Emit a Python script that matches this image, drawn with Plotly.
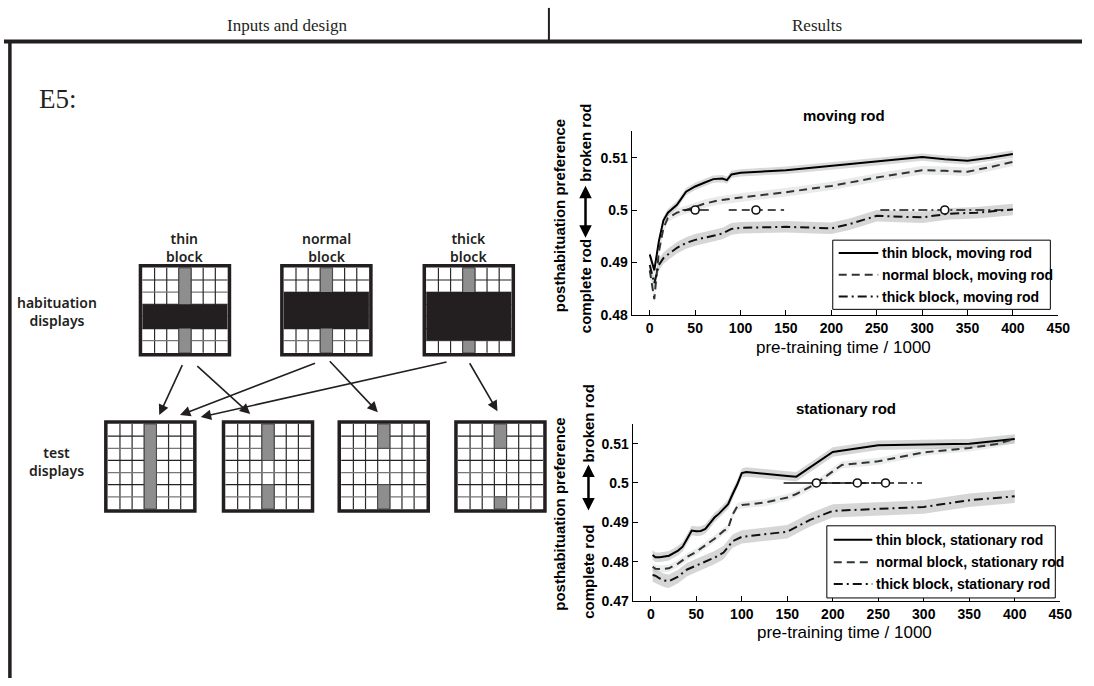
import plotly.graph_objects as go

W, H = 1094, 686

# ---------------- data: moving rod ----------------
mv_thin_t = [0, 5, 10, 15, 20, 30, 40, 50, 60, 70, 80, 85, 90, 100, 150, 200, 250, 300, 325, 350, 375, 400]
mv_thin_v = [0.4915, 0.4885, 0.4940, 0.4980, 0.4995, 0.5010, 0.5035, 0.5045, 0.5052, 0.5059, 0.5060, 0.5057,
             0.5068, 0.5071, 0.5076, 0.5084, 0.5092, 0.5101, 0.5097, 0.5094, 0.5100, 0.5107]
mv_norm_t = [0, 5, 10, 15, 20, 30, 40, 50, 60, 75, 90, 100, 150, 200, 250, 300, 325, 350, 375, 400]
mv_norm_v = [0.4885, 0.4830, 0.4920, 0.4965, 0.4985, 0.4995, 0.5000, 0.5006, 0.5012, 0.5018, 0.5022, 0.5024,
             0.5034, 0.5046, 0.5062, 0.5076, 0.5075, 0.5073, 0.5082, 0.5092]
mv_thick_t = [0, 5, 10, 15, 20, 30, 40, 50, 60, 70, 80, 90, 100, 150, 180, 200, 220, 250, 280, 300, 330, 360, 400]
mv_thick_v = [0.4895, 0.4860, 0.4895, 0.4908, 0.4915, 0.4928, 0.4937, 0.4943, 0.4947, 0.4951, 0.4955, 0.4964,
              0.4966, 0.4968, 0.4966, 0.4965, 0.4973, 0.4989, 0.4987, 0.4986, 0.4993, 0.4995, 0.5001]
mv_spread = [0.0007, 0.0008, 0.0011]
# crossing of the 0.5 line: centre, lower, upper
mv_cross_mid = [50, 117, 325]
mv_cross_lo = [36, 87, 254]
mv_cross_hi = [65, 148, 399]

# ---------------- data: stationary rod ----------------
st_thin_t = [2, 5, 10, 20, 30, 35, 40, 45, 50, 55, 60, 65, 70, 75, 80, 85, 90, 95, 100, 105, 150, 160,
             200, 250, 300, 350, 400]
st_thin_v = [0.4817, 0.4811, 0.4811, 0.4815, 0.4828, 0.4838, 0.4858, 0.4879, 0.4877, 0.4878, 0.4883, 0.4897,
             0.4912, 0.4922, 0.4935, 0.4946, 0.4972, 0.4996, 0.5025, 0.5028, 0.5018, 0.5016, 0.5079, 0.5096,
             0.5098, 0.5100, 0.5112]
st_norm_t = [2, 5, 10, 20, 30, 40, 50, 60, 70, 80, 85, 90, 95, 100, 125, 150, 160, 180, 200, 210, 250, 300,
             350, 380, 400]
st_norm_v = [0.4787, 0.4782, 0.4781, 0.4783, 0.4795, 0.4812, 0.4825, 0.4842, 0.4858, 0.4878, 0.4885, 0.4920,
             0.4940, 0.4944, 0.4950, 0.4963, 0.4972, 0.4996, 0.5030, 0.5046, 0.5055, 0.5078, 0.5089, 0.5099,
             0.5112]
st_thick_t = [2, 5, 10, 15, 20, 30, 40, 50, 60, 70, 80, 85, 90, 100, 150, 175, 200, 250, 300, 350, 400]
st_thick_v = [0.4766, 0.4764, 0.4757, 0.4752, 0.4750, 0.4762, 0.4780, 0.4790, 0.4800, 0.4810, 0.4823, 0.4838,
              0.4852, 0.4863, 0.4876, 0.4906, 0.4929, 0.4934, 0.4939, 0.4956, 0.4966]
st_spread = [0.0012, 0.0009, 0.0017]
st_cross_mid = [182, 227, 258]
st_cross_lo = [146, 185, 230]
st_cross_hi = [220, 270, 298]

x_ticks = [0, 50, 100, 150, 200, 250, 300, 350, 400, 450]
mv_y_ticks = [0.48, 0.49, 0.5, 0.51]
st_y_ticks = [0.47, 0.48, 0.49, 0.5, 0.51]
y_tick_text = {0.47: "0.47", 0.48: "0.48", 0.49: "0.49", 0.5: "0.5", 0.51: "0.51"}

blocks = ["thin block", "normal block", "thick block"]

# ---------------- styles ----------------
line_colors = ["#000000", "#2d3535", "#111111"]
line_dash = ["solid", "8px,5px", "9px,4px,2px,4px"]
band_colors = ["rgba(120,120,120,0.28)", "rgba(150,150,150,0.20)", "rgba(120,120,120,0.30)"]
band_colors_st = ["rgba(120,120,120,0.30)", "rgba(150,150,150,0.18)", "rgba(120,120,120,0.30)"]

narrow = "Liberation Sans Narrow, Arial Narrow, Liberation Sans, Arial"
tick_font = dict(family=narrow, size=14, color="black", weight="bold")
sans = "Liberation Sans, Arial"
geo = "Noto Sans, Lato, sans-serif"
serif = "Liberation Serif, Times New Roman, serif"

fig = go.Figure()


def add_panel(ts, vs, spreads, bands, xa, ya, mids, los, his):
    for i in range(3):
        t, v, s = ts[i], vs[i], spreads[i]
        upper = [a + s for a in v]
        lower = [a - s for a in v]
        fig.add_trace(go.Scatter(x=t + t[::-1], y=upper + lower[::-1], fill="toself",
                                 fillcolor=bands[i], line=dict(width=0), mode="lines",
                                 hoverinfo="skip", showlegend=False, xaxis=xa, yaxis=ya))
    for i in range(3):
        fig.add_trace(go.Scatter(x=ts[i], y=vs[i], mode="lines",
                                 line=dict(color=line_colors[i], width=2, dash=line_dash[i]),
                                 showlegend=False, xaxis=xa, yaxis=ya))
    for i in range(3):
        fig.add_trace(go.Scatter(x=[los[i], his[i]], y=[0.5, 0.5], mode="lines",
                                 line=dict(color="#111111", width=1.6, dash=line_dash[i]),
                                 showlegend=False, xaxis=xa, yaxis=ya))
    for i in range(3):
        fig.add_trace(go.Scatter(x=[mids[i]], y=[0.5], mode="markers",
                                 marker=dict(symbol="circle", size=8, color="white",
                                             line=dict(color="#111111", width=1.6)),
                                 showlegend=False, xaxis=xa, yaxis=ya))


add_panel([mv_thin_t, mv_norm_t, mv_thick_t], [mv_thin_v, mv_norm_v, mv_thick_v], mv_spread,
          band_colors, "x", "y", mv_cross_mid, mv_cross_lo, mv_cross_hi)
add_panel([st_thin_t, st_norm_t, st_thick_t], [st_thin_v, st_norm_v, st_thick_v], st_spread,
          band_colors_st, "x2", "y2", st_cross_mid, st_cross_lo, st_cross_hi)

# invisible trace keeping the full-page drawing axis alive
fig.add_trace(go.Scatter(x=[0], y=[0], mode="markers", marker=dict(opacity=0),
                         hoverinfo="skip", showlegend=False, xaxis="x3", yaxis="y3"))

axis_common = dict(showgrid=False, zeroline=False, showline=True, linecolor="black", linewidth=1,
                   ticks="inside", ticklen=5, tickwidth=1, tickcolor="black", tickfont=tick_font)

fig.update_layout(
    width=W, height=H, margin=dict(l=0, r=0, t=0, b=0),
    paper_bgcolor="white", plot_bgcolor="rgba(0,0,0,0)",
    xaxis=dict(domain=[638.6 / W, 1070 / W], range=[-20, 450], tickvals=x_ticks, anchor="y", **axis_common),
    yaxis=dict(domain=[1 - 318.5 / H, 1 - 133 / H], range=[0.48, 0.515], tickvals=mv_y_ticks,
               ticktext=[y_tick_text[v] for v in mv_y_ticks], anchor="x", **axis_common),
    xaxis2=dict(domain=[639.6 / W, 1072 / W], range=[-20, 450], tickvals=x_ticks, anchor="y2", **axis_common),
    yaxis2=dict(domain=[1 - 608 / H, 1 - 429 / H], range=[0.47, 0.515], tickvals=st_y_ticks,
                ticktext=[y_tick_text[v] for v in st_y_ticks], anchor="x2", **axis_common),
    xaxis3=dict(domain=[0, 1], range=[0, W], visible=False, fixedrange=True, anchor="y3"),
    yaxis3=dict(domain=[0, 1], range=[H, 0], visible=False, fixedrange=True, anchor="x3"),
    showlegend=False,
)

shapes = []
annos = []


def px_line(x0, y0, x1, y1, color="black", width=1, dash="solid"):
    shapes.append(dict(type="line", xref="x3", yref="y3", x0=x0, y0=y0, x1=x1, y1=y1,
                       line=dict(color=color, width=width, dash=dash)))


def px_rect(x0, y0, x1, y1, fill, color=None, width=0):
    shapes.append(dict(type="rect", xref="x3", yref="y3", x0=x0, y0=y0, x1=x1, y1=y1,
                       fillcolor=fill, line=dict(color=color or fill, width=width)))


def px_text(x, y, text, size, family, color="black", weight="normal", angle=0, xanchor="center"):
    annos.append(dict(xref="x3", yref="y3", x=x, y=y, text=text, showarrow=False, textangle=angle,
                      xanchor=xanchor, yanchor="middle",
                      font=dict(size=size, family=family, color=color, weight=weight)))


# ---------------- page frame ----------------
px_line(4, 42, W, 42, color="#231f20", width=4)
px_line(10, 42, 10, H, color="#231f20", width=3.5)
px_line(555, 8, 555, 42, color="#231f20", width=2)
px_text(290, 26, "Inputs and design", 17, serif, color="#231f20")
px_text(826, 26, "Results", 17, serif, color="#231f20")
px_text(59, 100, "E5:", 27, serif, color="#231f20")

# ---------------- stimulus displays ----------------
N = 7
BOX = 90
PAD = 2
ROD_COL = 3


def display(x0, y0, rod_rows, occluder=None):
    c = (BOX - 2 * PAD) / N
    ix0, iy0 = x0 + PAD, y0 + PAD
    px_rect(x0, y0, x0 + BOX, y0 + BOX, "white")
    for k in range(1, N):
        shade = "#222222" if k % 2 else "#777777"
        px_line(ix0 + k * c, iy0, ix0 + k * c, iy0 + N * c, color="#2a2a2a", width=1.2)
        px_line(ix0, iy0 + k * c, ix0 + N * c, iy0 + k * c, color=shade, width=1.2)
    for r0, r1 in rod_rows:
        px_rect(ix0 + ROD_COL * c, iy0 + r0 * c, ix0 + (ROD_COL + 1) * c, iy0 + r1 * c,
                "#8e8e8e", color="#4a4a4a", width=1)
    if occluder:
        r0, r1 = occluder
        px_rect(ix0, iy0 + r0 * c, ix0 + N * c, iy0 + r1 * c, "#231f20")
    shapes.append(dict(type="rect", xref="x3", yref="y3", x0=x0, y0=y0, x1=x0 + BOX, y1=y0 + BOX,
                       line=dict(color="#231f20", width=3.5)))


hab_labels = ["thin<br>block", "normal<br>block", "thick<br>block"]
hab_occluder_rows = [(3, 5), (2, 5), (2, 6)]
test_rod_rows = [[(0, 7)], [(0, 3), (5, 7)], [(0, 2), (5, 7)], [(0, 2), (6, 7)]]

hab_x = [142, 285, 429]
hab_y = 269
test_x = [107, 226, 343, 461]
test_y = 427

for i in range(3):
    display(hab_x[i], hab_y, [(0, N)], hab_occluder_rows[i])
    px_text(hab_x[i] + BOX / 2, 250, hab_labels[i], 14, geo, color="#231f20", weight=600)
for i in range(4):
    display(test_x[i], test_y, test_rod_rows[i])

px_text(58, 315, "habituation<br>displays", 14, geo, color="#231f20", weight=600)
px_text(57, 467, "test<br>displays", 14, geo, color="#231f20", weight=600)

# arrows from habituation to test displays: (tail x, tail y, head x, head y)
arrows = [(185, 368, 161, 420), (198, 369, 253, 419), (320, 367, 182, 420),
          (332, 364, 382, 417), (453, 366, 203, 422), (474, 366, 503, 416)]
for tx, ty, hx, hy in arrows:
    annos.append(dict(xref="x3", yref="y3", axref="x3", ayref="y3", x=hx, y=hy, ax=tx, ay=ty,
                      text="", showarrow=True, arrowhead=2, arrowsize=1.3, arrowwidth=1.6,
                      arrowcolor="#231f20"))

# ---------------- chart titles and axis labels ----------------
px_text(853, 117, "moving rod", 15, sans, weight="bold")
px_text(855, 413, "stationary rod", 15, sans, weight="bold")
px_text(853, 352, "pre-training time / 1000", 17, sans)
px_text(854, 640, "pre-training time / 1000", 17, sans)

for yc, xb, broken_y, arrow_top, arrow_bot, complete_y in [
        (218, 592, 145, 188, 242, 290),
        (520, 595, 428, 470, 518, 578)]:
    px_text(566, yc, "posthabituation preference", 15, sans, weight="bold", angle=-90)
    px_text(xb, broken_y, "broken rod", 15, sans, weight="bold", angle=-90)
    px_text(xb, complete_y, "complete rod", 15, sans, weight="bold", angle=-90)
    annos.append(dict(xref="x3", yref="y3", axref="x3", ayref="y3", x=xb, y=arrow_top, ax=xb, ay=arrow_bot,
                      text="", showarrow=True, arrowhead=2, arrowside="end+start", arrowsize=1,
                      arrowwidth=2.5, arrowcolor="black"))

# ---------------- legends ----------------
legend_font = dict(family=narrow, size=14, color="black", weight="bold")


def legend_box(x0, y0, x1, y1, rows_y, suffix, lx0, lx1, tx):
    shapes.append(dict(type="rect", xref="x3", yref="y3", x0=x0, y0=y0, x1=x1, y1=y1,
                       fillcolor="white", line=dict(color="black", width=1)))
    for i in range(3):
        px_line(lx0, rows_y[i], lx1, rows_y[i], color=line_colors[i], width=2, dash=line_dash[i])
        annos.append(dict(xref="x3", yref="y3", x=tx, y=rows_y[i], text=f"{blocks[i]}, {suffix}",
                          showarrow=False, xanchor="left", yanchor="middle", font=legend_font))


legend_box(842, 243, 1062, 313, [256, 278, 300], "moving rod", 848, 888, 890)
legend_box(836, 532, 1067, 605, [546, 569, 591], "stationary rod", 843, 882, 884)

fig.update_layout(shapes=shapes, annotations=annos)
fig.write_html("out.html")
